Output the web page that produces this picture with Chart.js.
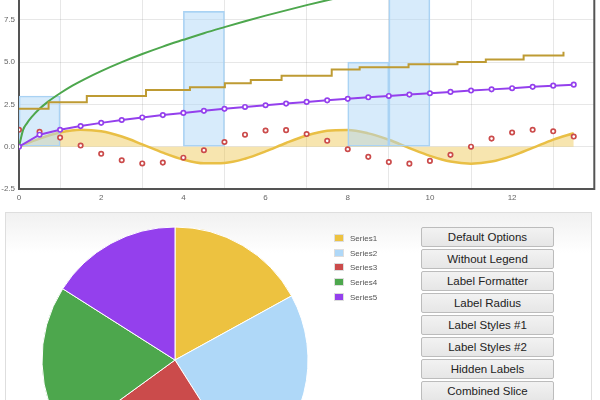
<!DOCTYPE html>
<html>
<head>
<meta charset="utf-8">
<script src="https://cdn.jsdelivr.net/npm/chart.js@4/dist/chart.umd.min.js"></script>
<style>
  body { margin: 0; width: 600px; height: 400px; overflow: hidden; background: #fff; position: relative; font-family: "Liberation Sans", Arial, sans-serif; }
  #topWrap { position: absolute; left: 0; top: 0; width: 600px; height: 209px; overflow: hidden; }
  #lineChart { position: absolute; left: 0; top: -121px; }
  #panel { position: absolute; left: 5px; top: 212px; width: 585px; height: 300px; border: 1px solid #dedede; background: linear-gradient(#f1f1f1, #fff 40px); }
  #pieChart { position: absolute; left: 0; top: 213px; }
  .legendRow { position: absolute; left: 334px; height: 10px; font-size: 8px; color: #545454; line-height: 10px; }
  .legendRow span.box { position: absolute; left: 0; top: 0; width: 10px; height: 8px; border: 1px solid #ddd; box-sizing: border-box; }
  .legendRow span.txt { position: absolute; left: 16px; top: 0; white-space: nowrap; }
  .btn { position: absolute; left: 421px; width: 133px; height: 20px; box-sizing: border-box; border: 1px solid #bcbcbc; border-radius: 2px; background: linear-gradient(#f2f2f2, #e6e6e6); font-size: 11.5px; color: #222; text-align: center; line-height: 18px; }
</style>
</head>
<body>
<div id="topWrap"><canvas id="lineChart" width="600" height="330"></canvas></div>
<div id="panel"></div>
<canvas id="pieChart" width="350" height="294"></canvas>
<div id="legend"></div>
<div id="buttons"></div>
<script>
// x positions of the half-step series
const halfSteps = [0, 0.5, 1, 1.5, 2, 2.5, 3, 3.5, 4, 4.5, 5, 5.5, 6, 6.5, 7, 7.5, 8, 8.5, 9, 9.5, 10, 10.5, 11, 11.5, 12, 12.5, 13, 13.5];
// filled yellow wave
const waveValues = [0, 0.48, 0.84, 1.0, 0.91, 0.6, 0.14, -0.35, -0.76, -0.98, -0.96, -0.71, -0.28, 0.22, 0.66, 0.94, 0.99, 0.79, 0.41, -0.08, -0.54, -0.88, -1.0, -0.88, -0.54, -0.07, 0.42, 0.8];
// red circles
const dotValues = [1.0, 0.88, 0.54, 0.07, -0.42, -0.8, -0.99, -0.94, -0.65, -0.21, 0.28, 0.71, 0.96, 0.98, 0.75, 0.35, -0.15, -0.6, -0.91, -1.0, -0.84, -0.48, 0.0, 0.48, 0.84, 1.0, 0.91, 0.6];
// purple line with points
const purpleValues = [0, 0.71, 1.0, 1.22, 1.41, 1.58, 1.73, 1.87, 2.0, 2.12, 2.24, 2.35, 2.45, 2.55, 2.65, 2.74, 2.83, 2.92, 3.0, 3.08, 3.16, 3.24, 3.32, 3.39, 3.46, 3.54, 3.61, 3.67];
// green curve
const curveX = [0, 0.1, 0.2, 0.3, 0.5, 0.7, 1, 1.3, 1.6, 2, 2.5, 3, 3.5, 4, 4.5, 5, 5.5, 6, 6.5, 7, 7.5, 8, 9, 10, 11, 12, 13, 13.9];
const curveY = [0, 1.0, 1.41, 1.73, 2.24, 2.65, 3.16, 3.61, 4.0, 4.47, 5.0, 5.48, 5.92, 6.32, 6.71, 7.07, 7.42, 7.75, 8.06, 8.37, 8.66, 8.94, 9.49, 10.0, 10.49, 10.95, 11.4, 11.79];
// blue bars (left edge, height), width 1
const barStart = [0, 4, 8, 9];
const barHeights = [3, 8, 5, 13];
// stepped gold line
const stepX = [0, 0.72, 1.65, 3.09, 4.16, 5.01, 5.64, 6.39, 7.61, 8.29, 9.48, 10.67, 11.36, 12.28, 13.25];
const stepY = [2.24, 2.63, 3.0, 3.36, 3.52, 3.75, 3.95, 4.19, 4.56, 4.7, 4.88, 5.01, 5.15, 5.39, 5.62];

// pie
const pieLabels = ["Series1", "Series2", "Series3", "Series4", "Series5"];
const pieValues = [17, 24, 24, 19, 16];
const pieColors = ["#edc240", "#afd8f8", "#cb4b4b", "#4da74d", "#9440ed"];

const buttonLabels = ["Default Options", "Without Legend", "Label Formatter", "Label Radius", "Label Styles #1", "Label Styles #2", "Hidden Labels", "Combined Slice"];

const pts = (xs, ys) => xs.map((x, i) => ({ x: x, y: ys[i] }));

// flot style frame drawn under the series
const frame = {
  id: "frame",
  beforeDatasetsDraw(c) {
    const a = c.chartArea, ctx = c.ctx;
    ctx.save();
    ctx.strokeStyle = "#545454";
    ctx.lineWidth = 2;
    ctx.strokeRect(a.left, a.top, a.right - a.left, a.bottom - a.top);
    ctx.restore();
  }
};

new Chart(document.getElementById("lineChart"), {
  data: {
    datasets: [
      {
        type: "line",
        data: pts(halfSteps, waveValues),
        borderColor: "#e9bf45",
        backgroundColor: "rgba(237,194,64,0.42)",
        borderWidth: 2.5,
        fill: "origin",
        pointRadius: 0,
        cubicInterpolationMode: "monotone",
        order: 6
      },
      {
        type: "bar",
        data: barStart.map((x, i) => ({ x: x + 0.5, y: barHeights[i] })),
        backgroundColor: "rgba(175,216,248,0.5)",
        borderColor: "#a9d2f3",
        borderWidth: 1,
        borderSkipped: false,
        barPercentage: 1,
        categoryPercentage: 1,
        order: 5
      },
      {
        type: "line",
        data: pts(halfSteps, dotValues),
        showLine: false,
        pointRadius: 2.2,
        pointBorderWidth: 1.7,
        pointBorderColor: "#cb4b4b",
        pointBackgroundColor: "#fff",
        order: 4
      },
      {
        type: "line",
        data: pts(curveX, curveY),
        borderColor: "#4da74d",
        borderWidth: 2,
        pointRadius: 0,
        cubicInterpolationMode: "monotone",
        order: 3
      },
      {
        type: "line",
        data: pts(halfSteps, purpleValues),
        borderColor: "#9440ed",
        borderWidth: 2,
        pointRadius: 2.2,
        pointBorderWidth: 1.7,
        pointBorderColor: "#9440ed",
        pointBackgroundColor: "#fff",
        order: 2
      },
      {
        type: "line",
        data: pts(stepX, stepY),
        borderColor: "#be9b33",
        borderWidth: 2,
        stepped: true,
        pointRadius: 0,
        order: 1
      }
    ]
  },
  options: {
    responsive: false,
    animation: false,
    layout: { padding: { top: 14, right: 4, left: 0, bottom: 0 } },
    plugins: { legend: { display: false }, tooltip: { enabled: false } },
    scales: {
      x: {
        type: "linear",
        min: 0,
        max: 14,
        offset: false,
        ticks: {
          stepSize: 2,
          padding: 4,
          color: "#666",
          font: { family: "Liberation Sans", size: 8 },
          callback: v => (v > 12 ? "" : v)
        },
        grid: { color: "rgba(84,84,84,0.14)", drawTicks: false },
        border: { display: false },
        afterFit: s => { s.height = 20; }
      },
      y: {
        min: -2.5,
        max: 15,
        ticks: {
          stepSize: 2.5,
          padding: 4,
          color: "#666",
          font: { family: "Liberation Sans", size: 8 },
          callback: v => v.toFixed(1)
        },
        grid: { color: "rgba(84,84,84,0.14)", drawTicks: false },
        border: { display: false },
        afterFit: s => { s.width = 19; }
      }
    }
  },
  plugins: [frame]
});

new Chart(document.getElementById("pieChart"), {
  type: "pie",
  data: {
    labels: pieLabels,
    datasets: [{
      data: pieValues,
      backgroundColor: pieColors,
      borderColor: "#fff",
      borderWidth: 1
    }]
  },
  options: {
    responsive: false,
    animation: false,
    radius: 133,
    layout: { padding: 0 },
    plugins: { legend: { display: false }, tooltip: { enabled: false } }
  }
});

// legend and buttons
const legend = document.getElementById("legend");
pieLabels.forEach((name, i) => {
  const row = document.createElement("div");
  row.className = "legendRow";
  row.style.top = (234 + i * 14.7) + "px";
  row.innerHTML = '<span class="box" style="background:' + pieColors[i] + '"></span><span class="txt">' + name + "</span>";
  legend.appendChild(row);
});

const buttons = document.getElementById("buttons");
buttonLabels.forEach((label, i) => {
  const b = document.createElement("div");
  b.className = "btn";
  b.style.top = (227 + i * 22) + "px";
  b.innerText = label;
  buttons.appendChild(b);
});
</script>
</body>
</html>
